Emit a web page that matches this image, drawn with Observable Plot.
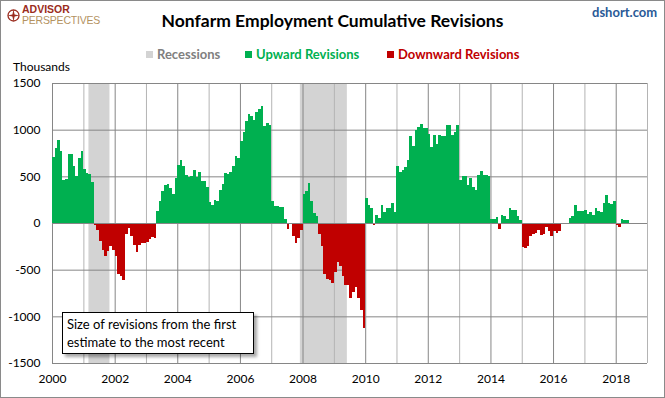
<!DOCTYPE html>
<html>
<head>
<meta charset="utf-8">
<script src="https://cdn.jsdelivr.net/npm/d3@7"></script>
<script src="https://cdn.jsdelivr.net/npm/@observablehq/plot@0.6"></script>
<style>
  body { margin: 0; background: #fff; }
  #wrap { position: relative; width: 665px; height: 398px; font-family: Lato, "Open Sans", sans-serif; overflow: hidden; }
  #wrap svg { position: absolute; left: 0; top: 0; }
  .abs { position: absolute; white-space: nowrap; }
  #border { position: absolute; left: 0; top: 0; width: 665px; height: 398px; box-sizing: border-box; border: 1px solid #8a8a8a; pointer-events: none; }
</style>
</head>
<body>
<div id="wrap"></div>
<script>
// Cumulative revisions (thousands), monthly, Jan..Dec of each year
const y2000 = [711, 807, 893, 775, 464, 475, 743, 743, 614, 507, 700, 775];
const y2001 = [578, 536, 528, 443, -25, -79, -196, -286, -357, -296, -250, -290];
const y2002 = [-357, -543, -571, -607, -114, -54, -143, -232, -314, -239, -214, -212];
const y2003 = [-207, -168, -150, -160, 132, 239, 346, 411, 418, 375, 314, 482];
const y2004 = [625, 679, 614, 518, 493, 500, 571, 489, 550, 446, 454, 382];
const y2005 = [221, 196, 250, 239, 357, 421, 536, 529, 550, 614, 721, 700];
const y2006 = [882, 971, 1096, 1164, 1150, 1107, 1193, 1225, 1257, 1036, 1075, 1054];
const y2007 = [239, 179, 179, 168, 175, 46, -64, -10, -143, -214, -160, -79];
const y2008 = [314, 346, 432, 239, 111, 79, -114, -250, -543, -596, -607, -646];
const y2009 = [-529, -421, -464, -571, -661, -668, -804, -743, -686, -804, -936, -1125];
const y2010 = [271, 196, 164, -25, 89, 50, 196, 114, 164, 164, 214, 121];
const y2011 = [614, 543, 571, 600, 679, 936, 829, 993, 1032, 1064, 1018, 1018];
const y2012 = [957, 811, 946, 850, 946, 936, 936, 1054, 1054, 946, 971, 1054];
const y2013 = [457, 500, 500, 411, 482, 382, 350, 518, 561, 518, 511, 500];
const y2014 = [46, 39, 63, -60, 88, 74, 46, 158, 137, 141, 70, 35];
const y2015 = [-257, -271, -246, -141, -123, -106, -77, -130, -116, -42, -88, -141];
const y2016 = [-88, -109, -88, 0, 0, 0, 53, 77, 194, 130, 130, 130];
const y2017 = [141, 99, 113, 81, 162, 130, 113, 218, 299, 218, 204, 236];
const y2018 = [-21, -46, 46, 28, 35];
const firstYear = 2000;
const yearSeries = [y2000, y2001, y2002, y2003, y2004, y2005, y2006, y2007, y2008, y2009,
                    y2010, y2011, y2012, y2013, y2014, y2015, y2016, y2017, y2018];

const recessionStarts = ["2001-03-01", "2007-12-01"];
const recessionEnds = ["2001-11-01", "2009-06-01"];

const yTicks = [-1500, -1000, -500, 0, 500, 1000, 1500];
const xTickYears = [2000, 2002, 2004, 2006, 2008, 2010, 2012, 2014, 2016, 2018];
const gridYears = d3.range(2000, 2020);

const title = "Nonfarm Employment Cumulative Revisions";
const legendLabels = ["Recessions", "Upward Revisions", "Downward Revisions"];
const noteLines = ["Size of revisions from the first", "estimate to the most recent"];

const green = "#00b050", red = "#c00000", recGrey = "#d3d3d3";

const data = [];
yearSeries.forEach((arr, i) => arr.forEach((v, m) => data.push({date: new Date(Date.UTC(firstYear + i, m, 1)), value: v})));
const recessions = recessionStarts.map((s, i) => ({start: new Date(s + "T00:00Z"), end: new Date(recessionEnds[i] + "T00:00Z")}));
const yd = y => new Date(Date.UTC(y, 0, 1));

const chart = Plot.plot({
  width: 665,
  height: 398,
  marginTop: 83,
  marginBottom: 35,
  marginLeft: 52,
  marginRight: 18,
  style: {fontFamily: "Lato, sans-serif", fontSize: "12px", color: "#000", background: "transparent"},
  x: {type: "utc", domain: [yd(2000), yd(2019)], ticks: xTickYears.map(yd), tickFormat: d3.utcFormat("%Y"), tickSize: 0, tickPadding: 11, label: null},
  y: {domain: [-1500, 1500], ticks: yTicks, tickFormat: d => String(d), tickSize: 0, tickPadding: 12, label: null},
  marks: [
    Plot.rect(recessions, {x1: "start", x2: "end", fill: recGrey}),
    Plot.ruleX(gridYears.filter(y => y % 2 === 1).map(yd), {stroke: "#b4b4b4", strokeWidth: 1}),
    Plot.ruleX(gridYears.filter(y => y % 2 === 0).map(yd), {stroke: "#868686", strokeWidth: 1}),
    Plot.ruleY(yTicks.filter(v => v !== 0), {stroke: "#868686", strokeWidth: 1}),
    Plot.rectY(data.filter(d => d.value >= 0), {x: "date", interval: "month", y: "value", fill: green, inset: 0, shapeRendering: "crispEdges"}),
    Plot.rectY(data.filter(d => d.value < 0), {x: "date", interval: "month", y: "value", fill: red, inset: 0, shapeRendering: "crispEdges"}),
    Plot.ruleY([0], {stroke: "#868686", strokeWidth: 1})
  ]
});

const wrap = document.getElementById("wrap");
wrap.appendChild(chart);

function addDiv(html, css) {
  const d = document.createElement("div");
  d.className = "abs";
  d.innerHTML = html;
  Object.assign(d.style, css);
  wrap.appendChild(d);
  return d;
}

// logo
addDiv(`<svg width="13" height="13" viewBox="0 0 13 13"><circle cx="6.5" cy="6.5" r="5.5" fill="none" stroke="#9b2d20" stroke-width="1.3"/><path d="M6.5 0.5 L7.6 5.4 L12.5 6.5 L7.6 7.6 L6.5 12.5 L5.4 7.6 L0.5 6.5 L5.4 5.4 Z" fill="#9b2d20"/></svg>`,
  {left: "7px", top: "9px", width: "13px", height: "13px"});
addDiv("ADVISOR", {left: "22px", top: "4px", fontSize: "10.5px", fontWeight: "bold", color: "#9b2d20", fontFamily: "'Liberation Sans', Arial, sans-serif", lineHeight: "11px"});
addDiv("PERSPECTIVES", {left: "22px", top: "15px", fontSize: "10.5px", color: "#b4925f", fontFamily: "'Liberation Sans', Arial, sans-serif", lineHeight: "11px", letterSpacing: "-0.2px"});

addDiv("dshort.com", {left: "592px", top: "4px", fontSize: "13px", fontWeight: "bold", color: "#2a5a97"});
addDiv(title, {left: "0px", width: "665px", textAlign: "center", top: "10px", fontSize: "17.5px", fontWeight: "bold", color: "#000"});

// legend
const legendColors = [recGrey, green, red];
const legendText = ["#808080", green, red];
const legendX = [146, 245, 387];
legendLabels.forEach((lab, i) => {
  addDiv(`<span style="display:inline-block;width:7px;height:7px;background:${legendColors[i]};margin-right:4px;vertical-align:1px"></span>${lab}`,
    {left: legendX[i] + "px", top: "46px", fontSize: "13px", fontWeight: "bold", color: legendText[i]});
});

addDiv("Thousands", {left: "13px", top: "59px", fontSize: "12px", color: "#000"});

// note box
addDiv(noteLines.join("<br>"), {left: "62px", top: "312px", width: "192px", height: "42px", boxSizing: "border-box",
  border: "1px solid #000", background: "#fff", boxShadow: "3px 3px 3px rgba(0,0,0,0.35)",
  fontSize: "13px", lineHeight: "18px", padding: "2px 0 0 4px", color: "#000"});

const b = document.createElement("div");
b.id = "border";
wrap.appendChild(b);
</script>
</body>
</html>
